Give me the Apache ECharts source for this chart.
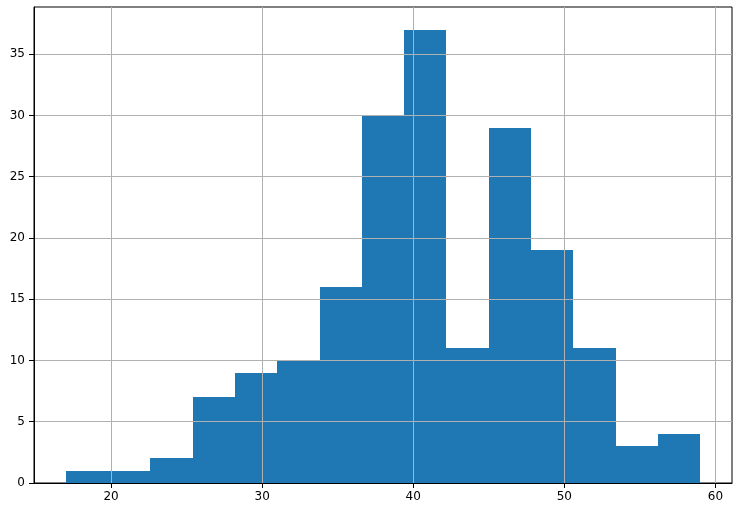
<!DOCTYPE html>
<html>
<head>
<meta charset="utf-8">
<script src="https://cdn.jsdelivr.net/npm/echarts@6/dist/echarts.min.js"></script>
<style>
  html, body { margin: 0; padding: 0; background: #fff; }
  #chart { width: 737px; height: 517px; }
</style>
</head>
<body>
<div id="chart"></div>
<script>
// histogram bin edges and counts
var binEdges = [17, 19.8, 22.6, 25.4, 28.2, 31, 33.8, 36.6, 39.4, 42.2, 45, 47.8, 50.6, 53.4, 56.2, 59];
var counts = [1, 1, 2, 7, 9, 10, 16, 30, 37, 11, 29, 19, 11, 3, 4];
var xTicks = [20, 30, 40, 50, 60];
var yTicks = [0, 5, 10, 15, 20, 25, 30, 35];

var bins = [];
for (var i = 0; i < counts.length; i++) {
    bins.push([binEdges[i], binEdges[i + 1], counts[i]]);
}

var myChart = echarts.init(document.getElementById('chart'), null, { renderer: 'canvas' });
var option = {
    backgroundColor: '#fff',
    animation: false,
    textStyle: { fontFamily: 'DejaVu Sans' },
    grid: {
        left: 34, right: 5, top: 7, bottom: 34,
        outerBoundsMode: 'none',
        show: true,
        borderColor: '#000',
        borderWidth: 1
    },
    xAxis: {
        type: 'value',
        min: 14.9,
        max: 61.1,
        z: 3,
        axisLine: { show: true, lineStyle: { color: '#000', width: 1 } },
        axisTick: { show: true, length: 5, customValues: xTicks, lineStyle: { color: '#000' } },
        axisLabel: { customValues: xTicks, margin: 8, color: '#000', fontSize: 12 },
        splitLine: { show: true, lineStyle: { color: '#b0b0b0', width: 1 } }
    },
    yAxis: {
        type: 'value',
        min: 0,
        max: 38.85,
        z: 3,
        axisLine: { show: true, lineStyle: { color: '#000', width: 1 } },
        axisTick: { show: true, length: 5, customValues: yTicks, lineStyle: { color: '#000' } },
        axisLabel: { customValues: yTicks, margin: 9, color: '#000', fontSize: 12 },
        splitLine: { show: true, lineStyle: { color: '#b0b0b0', width: 1 } }
    },
    series: [{
        type: 'custom',
        z: 2,
        renderItem: function (params, api) {
            var p0 = api.coord([api.value(0), api.value(2)]);
            var p1 = api.coord([api.value(1), 0]);
            var x0 = Math.round(p0[0]), x1 = Math.round(p1[0]);
            var y0 = Math.round(p0[1]), y1 = Math.round(p1[1]);
            return {
                type: 'rect',
                shape: { x: x0, y: y0, width: x1 - x0, height: y1 - y0 },
                style: { fill: '#1f77b4' }
            };
        },
        encode: { x: [0, 1], y: 2 },
        data: bins
    }]
};
myChart.setOption(option);
</script>
</body>
</html>
